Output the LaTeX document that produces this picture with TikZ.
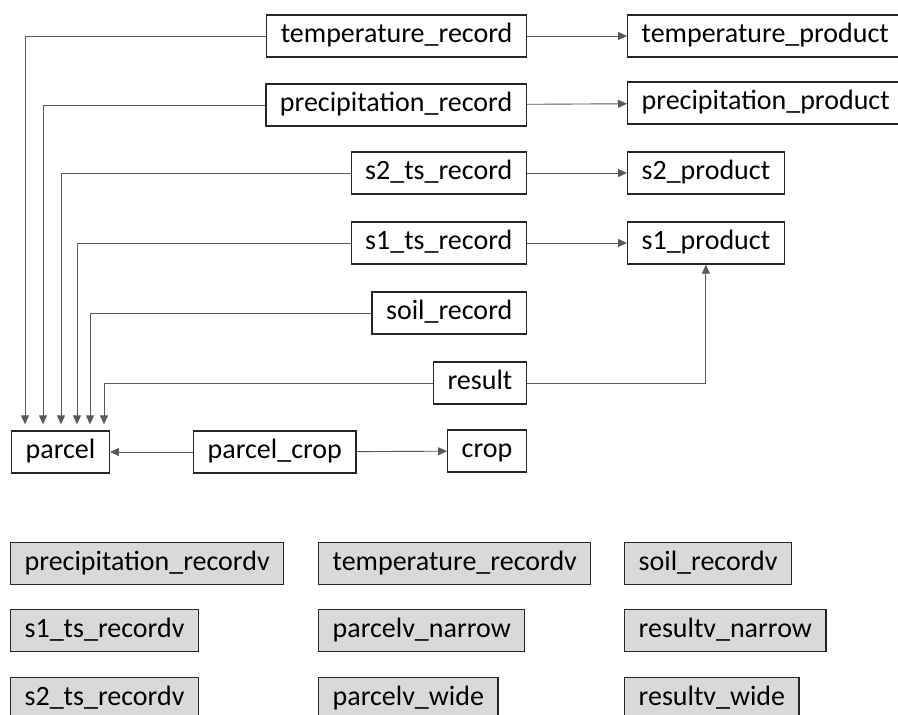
\documentclass[tikz,border=0pt]{standalone}
\usepackage{fontspec}
\setmainfont{Carlito}
\usepackage{tikz}
\usetikzlibrary{arrows.meta,calc}

\begin{document}
\begin{tikzpicture}[x=1pt,y=-1pt,
    font=\fontsize{28}{32}\selectfont,
    tbl/.style={draw=black!85,line width=1.3pt,minimum height=42pt,inner xsep=14pt,inner ysep=0pt,
      text height=19pt,text depth=6pt},
    view/.style={tbl,fill=black!15},
    link/.style={draw=black!65,line width=0.9pt},
    fk/.style={link,-{Triangle[length=9pt,width=8pt]}}]
      \useasboundingbox (0,0) rectangle (898,715);
      % tables
      \node [tbl,anchor=east] (temprec) at (527,36) {temperature\_record};
      \node [tbl,anchor=east] (precrec) at (527,105) {precipitation\_record};
      \node [tbl,anchor=east] (stworec) at (527,173) {s2\_ts\_record};
      \node [tbl,anchor=east] (sonerec) at (527,243) {s1\_ts\_record};
      \node [tbl,anchor=east] (soilrec) at (527,313) {soil\_record};
      \node [tbl,anchor=east] (result) at (527,383) {result};
      \node [tbl,anchor=east] (crop) at (527,451) {crop};
      \node [tbl,anchor=west] (tempprod) at (627,36) {temperature\_product};
      \node [tbl,anchor=west] (precprod) at (627,103) {precipitation\_product};
      \node [tbl,anchor=west] (stwoprod) at (627,173) {s2\_product};
      \node [tbl,anchor=west] (soneprod) at (627,243) {s1\_product};
      \node [tbl,anchor=west] (parcel) at (11,452) {parcel};
      \node [tbl,anchor=west] (parcelcrop) at (193,452) {parcel\_crop};
      % records to products
      \draw [fk] (temprec) -- (tempprod);
      \draw [fk] (precrec) -- (precprod);
      \draw [fk] (stworec) -- (stwoprod);
      \draw [fk] (sonerec) -- (soneprod);
      \draw [fk] (result.east) -| (soneprod.south);
      % everything down to parcel
      \draw [fk,shorten >=6pt] (temprec.west) -| ([xshift=14pt]parcel.north west);
      \draw [fk,shorten >=6pt] (precrec.west) -| ([xshift=32pt]parcel.north west);
      \draw [fk,shorten >=6pt] (stworec.west) -| ([xshift=50pt]parcel.north west);
      \draw [fk,shorten >=6pt] (sonerec.west) -| ([xshift=66pt]parcel.north west);
      \draw [fk,shorten >=6pt] (soilrec.west) -| ([xshift=79pt]parcel.north west);
      \draw [fk,shorten >=6pt] (result.west) -| ([xshift=93pt]parcel.north west);
      \draw [fk] (parcelcrop) -- (parcel);
      \draw [fk] (parcelcrop) -- (crop);
      % views
      \node [view,anchor=north west] (precv) at (10,542) {precipitation\_recordv};
      \node [view,anchor=north west] (tempv) at (318,542) {temperature\_recordv};
      \node [view,anchor=north west] (soilv) at (624,542) {soil\_recordv};
      \node [view,anchor=north west] (sonev) at (10,609) {s1\_ts\_recordv};
      \node [view,anchor=north west] (parcelvn) at (318,609) {parcelv\_narrow};
      \node [view,anchor=north west] (resultvn) at (624,609) {resultv\_narrow};
      \node [view,anchor=north west] (stwov) at (10,677) {s2\_ts\_recordv};
      \node [view,anchor=north west] (parcelvw) at (318,677) {parcelv\_wide};
      \node [view,anchor=north west] (resultvw) at (624,677) {resultv\_wide};
\end{tikzpicture}
\end{document}
